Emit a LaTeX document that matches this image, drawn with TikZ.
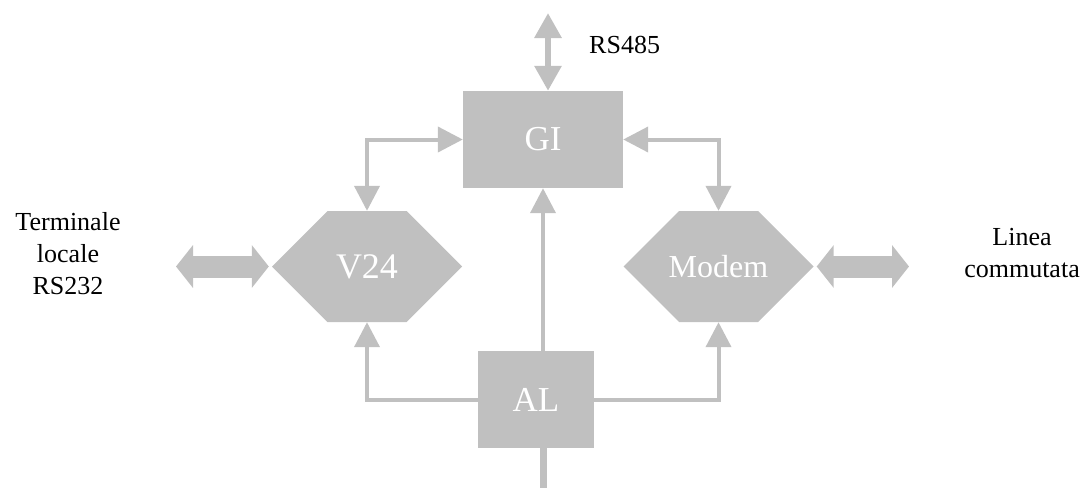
\documentclass[tikz,border=0pt]{standalone}
\usepackage{fontspec}
\setmainfont{Liberation Serif}
\usetikzlibrary{arrows.meta}
\definecolor{blockgray}{HTML}{C0C0C0}
\tikzset{
  block/.style={fill=blockgray, text=white, inner sep=0pt, font=\fontsize{35}{40}\selectfont},
  hexblock/.style={inner sep=0pt, text=white, minimum width=190pt, minimum height=111pt,
    font=\fontsize{36}{40}\selectfont,
    path picture={\fill[blockgray]
      (path picture bounding box.west)
      -- ([xshift=55.5pt]path picture bounding box.north west)
      -- ([xshift=-55.5pt]path picture bounding box.north east)
      -- (path picture bounding box.east)
      -- ([xshift=-55.5pt]path picture bounding box.south east)
      -- ([xshift=55.5pt]path picture bounding box.south west)
      -- cycle;}},
  label/.style={inner sep=0pt, align=center, font=\fontsize{26}{32}\selectfont},
  link/.style={draw=blockgray, line width=4pt,
    arrows={-Triangle[length=25pt,width=25pt]}},
  duplex/.style={draw=blockgray, line width=4pt,
    arrows={Triangle[length=25pt,width=25pt]-Triangle[length=25pt,width=25pt]}},
  bus/.style={draw=blockgray, line width=6pt,
    arrows={Triangle[length=25pt,width=26pt]-Triangle[length=25pt,width=26pt]}},
  wide/.style={draw=blockgray, line width=22pt,
    arrows={Triangle[length=17pt,width=42pt]-Triangle[length=17pt,width=42pt]}},
  feedline/.style={draw=blockgray, line width=7pt}
}
\begin{document}
\begin{tikzpicture}[x=1pt,y=-1pt]
\useasboundingbox (0,0) rectangle (1083,488);

% blocks
\node[block, minimum width=160pt, minimum height=97pt] (gi) at (543,139.5) {GI};
\node[block, minimum width=116pt, minimum height=97pt] (al) at (536,399.5) {AL};
\node[hexblock] (v24) at (367,266.5) {V24};
\node[hexblock, font=\fontsize{32}{36}\selectfont] (modem) at (718.5,266.5) {Modem};

% outer labels
\node[label] (term) at (68,254) {Terminale\\locale\\RS232};
\node[label] (linea) at (1022,253.5) {Linea\\commutata};
\node[label, anchor=base west] (rs485) at (589,53) {RS485};

% free ends of the external lines
\coordinate (busend) at (548,13);
\coordinate (termend) at (176,266.5);
\coordinate (lineaend) at (909,266.5);
\coordinate (supply) at (543,488);

% internal connections
\draw[duplex] (gi.west) -| (v24.north);
\draw[duplex] (gi.east) -| (modem.north);
\draw[link] (al.north -| gi.south) -- (gi.south);
\draw[link] (al.west) -| (v24.south);
\draw[link] (al.east) -| (modem.south);

% external connections
\draw[bus] (busend) -- (busend |- gi.north);
\draw[wide, shorten >=3pt] (termend) -- (v24.west);
\draw[wide, shorten <=3pt] (modem.east) -- (lineaend);
\draw[feedline] (al.south -| supply) -- (supply);
\end{tikzpicture}
\end{document}
